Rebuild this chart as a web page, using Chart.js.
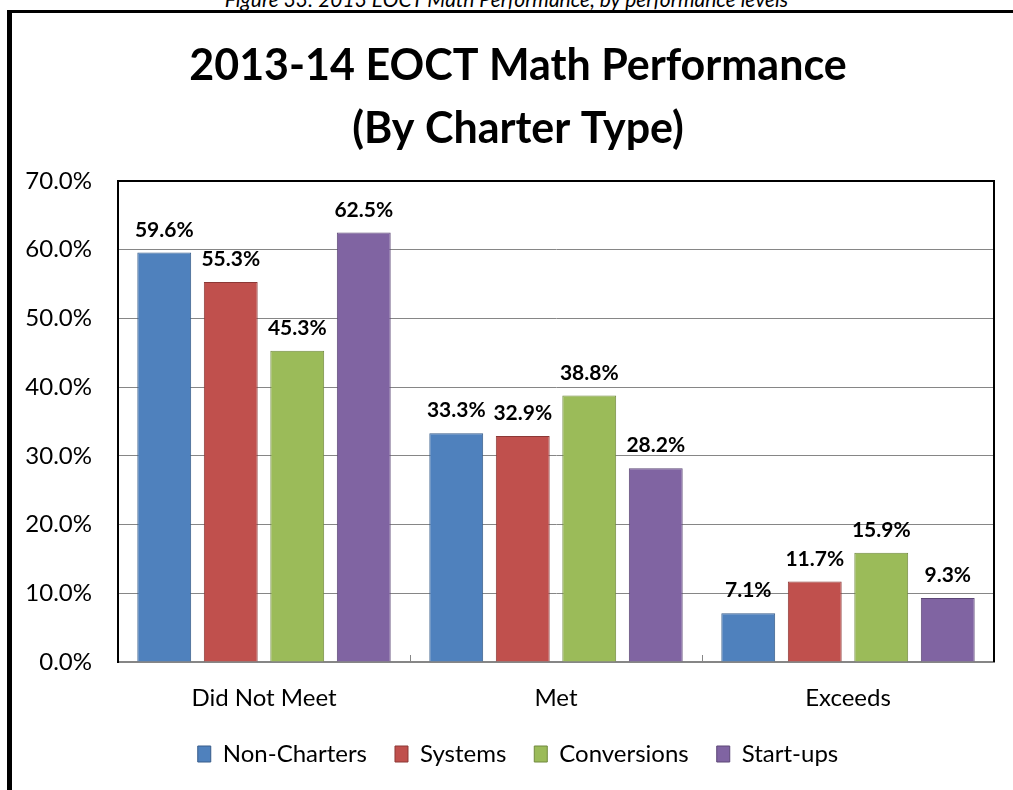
<!DOCTYPE html>
<html>
<head>
<meta charset="utf-8">
<title>2013-14 EOCT Math Performance</title>
<script src="https://cdn.jsdelivr.net/npm/chart.js@4.4.0/dist/chart.umd.min.js"></script>
<style>
  body { margin: 0; background: #fff; width: 1013px; height: 790px; overflow: hidden; position: relative; font-family: Lato, sans-serif; }
  .caption { position: absolute; top: -12px; left: 0; width: 1013px; text-align: center; font-style: italic; font-size: 21px; line-height: 21px; white-space: nowrap; }
  .frame { position: absolute; left: 7px; top: 10px; width: 1020px; height: 800px; border-left: 5px solid #000; border-top: 3px solid #000; }
  .wrap { position: absolute; left: 12px; top: 13px; width: 1031px; height: 777px; }
</style>
</head>
<body>
<div class="caption">Figure 33: 2013 EOCT Math Performance, by performance levels</div>
<div class="frame"></div>
<div class="wrap"><canvas id="chart"></canvas></div>
<script>
// performance levels and percent of students per charter type
const categories = ['Did Not Meet', 'Met', 'Exceeds'];
const nonCharters = [59.6, 33.3, 7.1];
const systems = [55.3, 32.9, 11.7];
const conversions = [45.3, 38.8, 15.9];
const startUps = [62.5, 28.2, 9.3];
const yMax = 70;
const yStep = 10;

const FONT = 'Lato';

// value labels above each bar
const barValueLabels = {
  id: 'barValueLabels',
  afterDatasetsDraw(chart) {
    const ctx = chart.ctx;
    ctx.save();
    ctx.font = `bold 21px ${FONT}`;
    ctx.fillStyle = '#000';
    ctx.textAlign = 'center';
    ctx.textBaseline = 'bottom';
    chart.data.datasets.forEach((ds, i) => {
      chart.getDatasetMeta(i).data.forEach((bar, j) => {
        ctx.fillText(ds.data[j].toFixed(1) + '%', bar.x, bar.y - 12);
      });
    });
    ctx.restore();
  }
};

// black top/right frame of the plot area + short inner tick marks between categories
const plotFrame = {
  id: 'plotFrame',
  afterDraw(chart) {
    const { ctx, chartArea: a, scales: { x } } = chart;
    ctx.save();
    ctx.strokeStyle = '#000';
    ctx.lineWidth = 2;
    ctx.beginPath();
    ctx.moveTo(a.left, a.top);
    ctx.lineTo(a.right, a.top);
    ctx.lineTo(a.right, a.bottom);
    ctx.stroke();
    ctx.strokeStyle = '#868686';
    ctx.lineWidth = 1;
    for (let i = 1; i < categories.length; i++) {
      const px = Math.round((x.getPixelForValue(i - 1) + x.getPixelForValue(i)) / 2) + 0.5;
      ctx.beginPath();
      ctx.moveTo(px, a.bottom);
      ctx.lineTo(px, a.bottom - 7);
      ctx.stroke();
    }
    ctx.restore();
  }
};

const dataset = (label, data, fill, border) => ({
  label, data,
  backgroundColor: fill,
  borderColor: border,
  borderWidth: 1,
  categoryPercentage: 0.911,
  barPercentage: 0.81
});

new Chart(document.getElementById('chart'), {
  type: 'bar',
  data: {
    labels: categories,
    datasets: [
      dataset('Non-Charters', nonCharters, '#4F81BD', '#385D8A'),
      dataset('Systems', systems, '#C0504D', '#8C3836'),
      dataset('Conversions', conversions, '#9BBB59', '#71893F'),
      dataset('Start-ups', startUps, '#8064A2', '#5C4776')
    ]
  },
  options: {
    responsive: true,
    maintainAspectRatio: false,
    animation: false,
    layout: { padding: { left: 0, right: 19, top: 0, bottom: 14 } },
    plugins: {
      title: {
        display: true,
        text: ['2013-14 EOCT Math Performance', '(By Charter Type)'],
        color: '#000',
        font: { family: FONT, size: 43, weight: 'bold', lineHeight: 1.465 },
        padding: { top: 21.5, bottom: 20.5 }
      },
      legend: {
        position: 'bottom',
        labels: {
          color: '#000',
          font: { family: FONT, size: 24 },
          boxWidth: 13,
          boxHeight: 16,
          padding: 28
        }
      },
      tooltip: { enabled: false }
    },
    scales: {
      x: {
        grid: { display: false, drawTicks: false },
        border: { color: '#868686', width: 2 },
        ticks: { color: '#000', font: { family: FONT, size: 24 }, padding: 22 },
        afterFit: s => { s.height = 52; }
      },
      y: {
        min: 0,
        max: yMax,
        ticks: {
          stepSize: yStep,
          color: '#000',
          font: { family: FONT, size: 24 },
          padding: 26,
          callback: v => v.toFixed(1) + '%'
        },
        grid: { color: '#868686', drawTicks: false },
        border: { color: '#000', width: 2 },
        afterFit: s => { s.width = 106; }
      },
      // empty right-hand axis: reserves space so the title and legend centre to the right
      spacer: {
        position: 'right',
        ticks: { display: false },
        grid: { display: false, drawTicks: false },
        border: { display: false },
        afterFit: s => { s.width = 30; }
      }
    }
  },
  plugins: [barValueLabels, plotFrame]
});
</script>
</body>
</html>
